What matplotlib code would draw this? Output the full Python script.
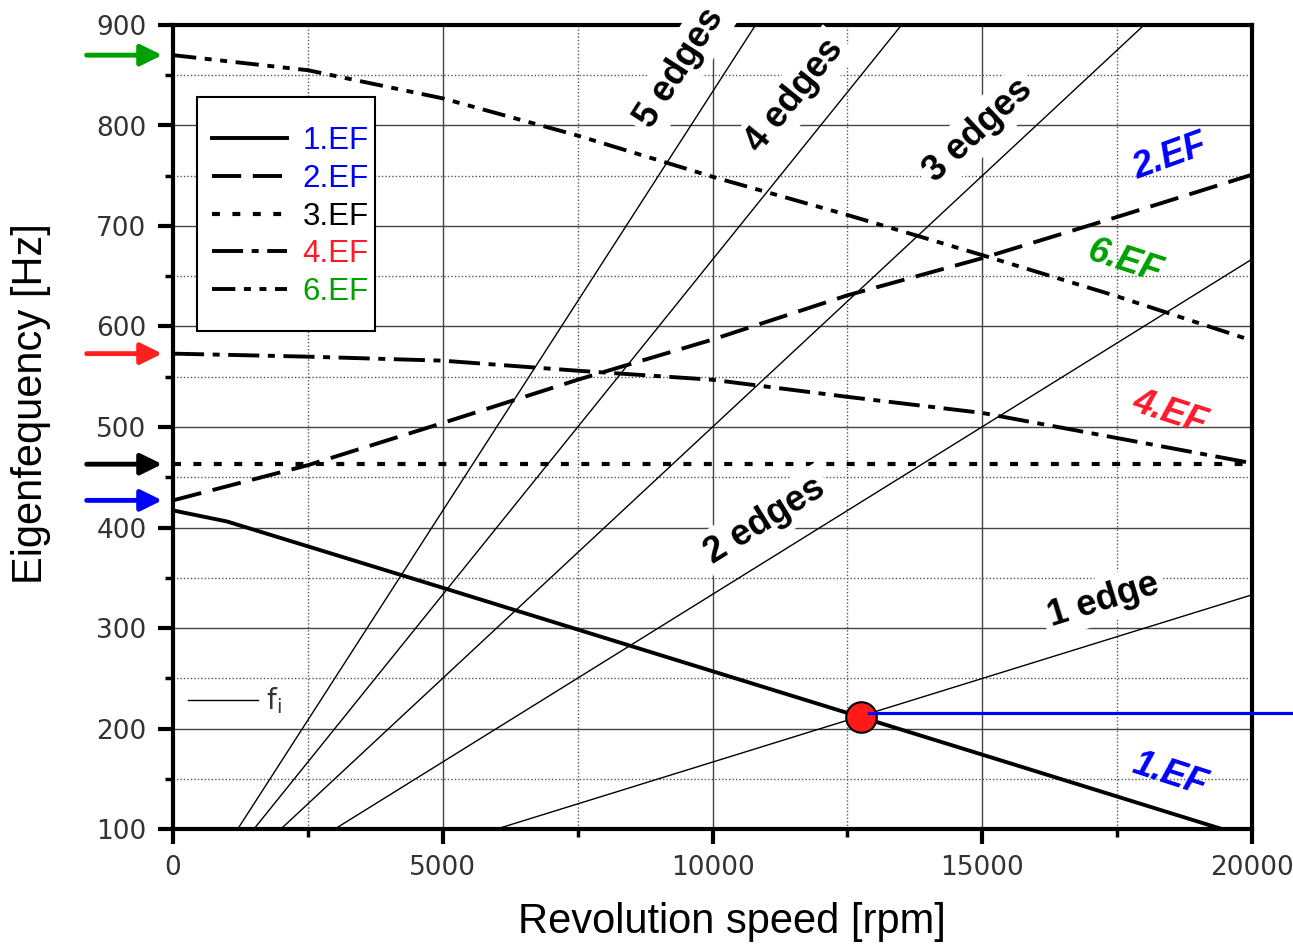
import numpy as np
import matplotlib
matplotlib.use("Agg")
import matplotlib.pyplot as plt
from matplotlib.patches import Rectangle
from matplotlib.ticker import MultipleLocator

# eigenfrequency curves (rpm -> Hz)
rpm = [0, 2500, 5000, 7500, 10000, 12500, 15000, 17500, 20000]
ef2 = [427, 462, 504, 547, 587, 631, 668, 709, 751]
ef3 = [463, 463, 463, 463, 463, 463, 463, 463, 463]
ef4 = [573, 570, 566, 556, 547, 530, 514, 489, 464]
ef6 = [870, 855, 827, 790, 749, 711, 671, 630, 586]
rpm1 = [0, 1000, 5000, 10000, 15000, 19500]
ef1 = [417, 406, 340, 257, 174, 99]

# excitation lines: n edges, from 100 Hz at start rpm to value at 20000 rpm
edge_names = ["1 edge", "2 edges", "3 edges", "4 edges", "5 edges"]
edge_start_rpm = [6000, 3000, 2000, 1500, 1200]
edge_end_hz = [333, 667, 1000, 1333, 1667]
edge_label_xy = [(17240, 328), (10970, 407), (14920, 795), (11530, 830), (9400, 857)]

# resonance point
res_rpm, res_hz = 12750, 211
res_line_hz = 215

ef_labels = ["1.EF", "2.EF", "3.EF", "4.EF", "6.EF"]
ef_colors = ["#0000ff", "#0000ff", "black", "#ff1a2a", "#00a000"]

fig = plt.figure(figsize=(12.93, 9.47), dpi=100)
ax = fig.add_axes([173 / 1293, 1 - 829 / 947, (1252 - 173) / 1293, (829 - 25) / 947])
ax.set_xlim(0, 20000)
ax.set_ylim(100, 900)

# grid
ax.xaxis.set_major_locator(MultipleLocator(5000))
ax.xaxis.set_minor_locator(MultipleLocator(2500))
ax.yaxis.set_major_locator(MultipleLocator(100))
ax.yaxis.set_minor_locator(MultipleLocator(50))
ax.grid(which="major", color="#444444", lw=1.0, ls="-", zorder=0)
ax.grid(which="minor", color="#555555", lw=1.0, ls=(0, (1, 1.5)), zorder=0)
ax.set_axisbelow(True)

for s in ax.spines.values():
    s.set_linewidth(3)
ax.tick_params(which="major", direction="out", length=11, width=3,
               labelsize=19, labelcolor="#333333", pad=8)
ax.tick_params(which="minor", direction="out", length=6, width=2.5)

# order lines
for n0, n1 in zip(edge_start_rpm, edge_end_hz):
    ax.plot([n0, 20000], [100, n1], color="black", lw=1.0, zorder=2)

# eigenfrequencies
h1, = ax.plot(rpm1, ef1, color="black", lw=2.8, ls="-", zorder=3)
h2, = ax.plot(rpm, ef2, color="black", lw=2.8, ls=(0, (7.5, 3.0)), zorder=3)
h3, = ax.plot(rpm, ef3, color="black", lw=3.0, ls=(0, (1.9, 3.0)), zorder=3)
h4, = ax.plot(rpm, ef4, color="black", lw=2.8, ls=(0, (8, 2.2, 1.8, 2.2)), zorder=3)
h6, = ax.plot(rpm, ef6, color="black", lw=2.8, ls=(0, (6, 2.2, 1.8, 2.2, 1.8, 2.2)), zorder=3)

# legend: own frame, legend without frame on top
ax.add_patch(Rectangle((0.0222, 0.6194), 0.165, 0.291, transform=ax.transAxes,
                       facecolor="white", edgecolor="black", lw=1.5, zorder=4.5))
leg = ax.legend([h1, h2, h3, h4, h6], ef_labels, loc="upper left",
                bbox_to_anchor=(0.0361, 0.8744), borderaxespad=0, frameon=False,
                handlelength=2.4, labelspacing=0.25, borderpad=0, handletextpad=0.5,
                prop={"family": "Liberation Sans", "size": 22.5})
leg.set_zorder(5)
for t, c in zip(leg.get_texts(), ef_colors):
    t.set_color(c)

# edge labels, rotated parallel to their lines
fig.canvas.draw()
for name, n0, n1, (lx, ly) in zip(edge_names, edge_start_rpm, edge_end_hz, edge_label_xy):
    p0 = ax.transData.transform((n0, 100))
    p1 = ax.transData.transform((20000, n1))
    ang = np.degrees(np.arctan2(p1[1] - p0[1], p1[0] - p0[0]))
    ax.text(lx, ly, name, rotation=ang, rotation_mode="anchor", ha="center", va="center",
            fontsize=26, fontweight="bold", family="Liberation Sans", clip_on=False,
            zorder=8, bbox=dict(facecolor="white", edgecolor="none", pad=4))

# EF curve labels
ef_text = [("2.EF", 18480, 769, 20, "#0000ff"), ("6.EF", 17640, 664, -18, "#00a000"),
           ("4.EF", 18480, 514, -18, "#ff1a2a"), ("1.EF", 18480, 154, -18, "#0000ff")]
for s, x, y, r, c in ef_text:
    ax.text(x, y, s, rotation=r, ha="center", va="center", color=c, fontsize=26,
            fontweight="bold", fontstyle="italic", family="Liberation Sans", zorder=8)

# arrows at the start values
for yv, c in [(ef6[0], "#00a000"), (ef4[0], "#ff2020"), (ef3[0], "black"), (ef2[0], "#0000ff")]:
    ax.annotate("", xy=(-0.010, yv), xytext=(-0.080, yv), xycoords=ax.get_yaxis_transform(),
                textcoords=ax.get_yaxis_transform(), annotation_clip=False,
                arrowprops=dict(arrowstyle="-|>,head_length=0.65,head_width=0.32",
                                color=c, lw=3.5, mutation_scale=20, shrinkA=0, shrinkB=0))

# resonance point
ax.plot([res_rpm], [res_hz], "o", ms=22, mfc="#ff1a1a", mec="black", mew=1.5, zorder=6)
ax.plot([res_rpm + 150, 20800], [res_line_hz, res_line_hz], color="#0000ff", lw=2.3,
        clip_on=False, zorder=7)

# f_i key
ax.plot([0.014, 0.079], [0.160, 0.160], transform=ax.transAxes, color="black", lw=1)
ax.text(0.086, 0.160, r"$\mathregular{f_i}$", transform=ax.transAxes, fontsize=20,
        color="#333333", va="center", ha="left")

fig.text(732 / 1293, 1 - 922 / 947, "Revolution speed [rpm]", ha="center", va="center",
         fontsize=30, family="Liberation Sans")
fig.text(31 / 1293, 1 - 404 / 947, "Eigenfequency [Hz]", ha="center", va="center",
         rotation=90, fontsize=30, family="Liberation Sans")

fig.savefig("out.png", dpi=100)
